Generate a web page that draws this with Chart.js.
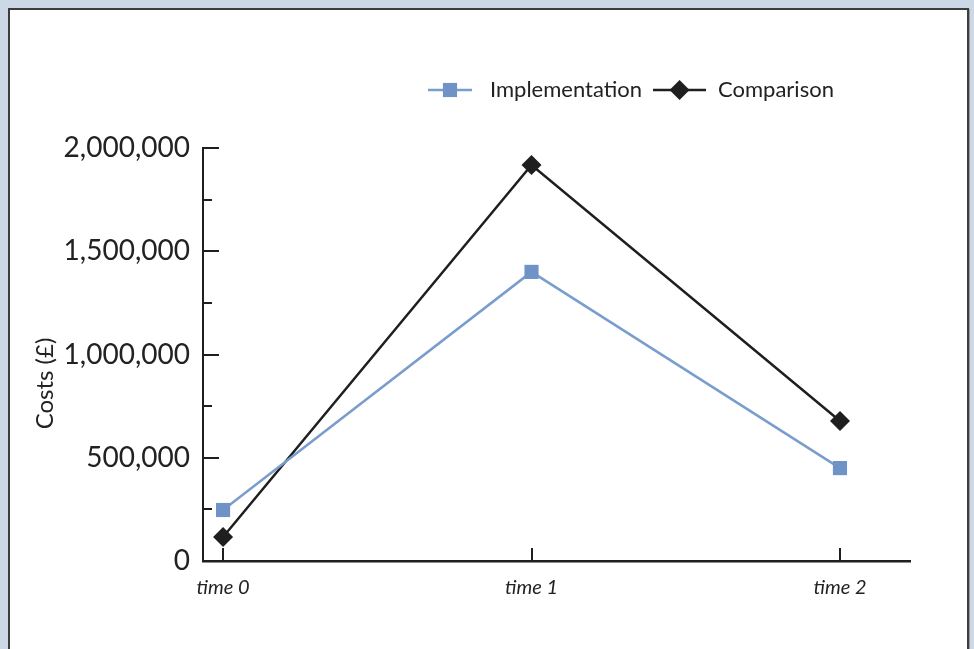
<!DOCTYPE html>
<html>
<head>
<meta charset="utf-8">
<script src="https://cdn.jsdelivr.net/npm/chart.js@4.4.1/dist/chart.umd.min.js"></script>
<style>
  html, body { margin: 0; padding: 0; }
  body { width: 974px; height: 649px; background: #cdd8e6; position: relative; overflow: hidden; }
  #panel {
    position: absolute; left: 8px; top: 8px; width: 957px; height: 700px;
    background: #ffffff; border: 2px solid #3d3d3d;
    box-shadow: 1px 1px 0 #9a9a9a;
  }
  #wrap { position: absolute; left: 0; top: 0; width: 974px; height: 649px; }
</style>
</head>
<body>
<div id="panel"></div>
<div id="wrap"><canvas id="grafico" width="974" height="649"></canvas></div>
<script>
const etiquetasTiempo = ["time 0", "time 1", "time 2"];
const posicionesTiempo = [0, 1, 2];

const nombresSeries = ["Implementation", "Comparison"];
const valoresImplementation = [247000, 1400000, 450000];
const valoresComparison = [116000, 1918000, 678000];

const ticksY = [0, 500000, 1000000, 1500000, 2000000];

const tituloY = "Costs (£)";

const colorAzul = "#6f93c6";
const colorNegro = "#1f1f1f";
const fuente = "Lato, 'Open Sans', sans-serif";

function puntos(valores) {
  return posicionesTiempo.map((x, i) => ({ x: x, y: valores[i] }));
}

// marcas de eje hacia adentro, como en el original
const pluginMarcas = {
  id: "pluginMarcas",
  beforeDatasetsDraw(chart) {
    const { ctx, scales } = chart;
    const ejeX = scales.x;
    const ejeY = scales.y;

    ctx.save();
    ctx.strokeStyle = colorNegro;
    ctx.lineWidth = 2;
    ctx.beginPath();

    ejeY.ticks.forEach((t) => {
      if (t.value === 0) return;
      const y = Math.round(ejeY.getPixelForValue(t.value));
      const largo = t.value % 500000 === 0 ? 16 : 9;
      ctx.moveTo(ejeX.left, y);
      ctx.lineTo(ejeX.left + largo, y);
    });

    ejeX.ticks.forEach((t) => {
      const x = Math.round(ejeX.getPixelForValue(t.value));
      ctx.moveTo(x, ejeY.bottom);
      ctx.lineTo(x, ejeY.bottom - 13);
    });

    ctx.stroke();
    ctx.restore();
  },
};

// leyenda y titulo del eje dibujados a mano para ubicarlos como en la imagen
const pluginLeyenda = {
  id: "pluginLeyenda",
  afterDraw(chart) {
    const { ctx, chartArea } = chart;
    const y = 90;
    const largos = [44, 53];
    const separaciones = [18, 12];
    let x = 428;

    ctx.save();
    ctx.font = "22px " + fuente;
    ctx.textBaseline = "middle";
    ctx.textAlign = "left";

    chart.data.datasets.forEach((ds, i) => {
      ctx.strokeStyle = ds.borderColor;
      ctx.lineWidth = ds.borderWidth;
      ctx.beginPath();
      ctx.moveTo(x, y);
      ctx.lineTo(x + largos[i], y);
      ctx.stroke();

      ctx.fillStyle = ds.pointBackgroundColor;
      ctx.strokeStyle = ds.pointBorderColor;
      Chart.helpers.drawPoint(ctx, {
        pointStyle: ds.pointStyle,
        radius: ds.pointRadius,
        borderWidth: 0,
        rotation: 0,
      }, x + largos[i] / 2, y);

      x += largos[i] + separaciones[i];
      ctx.fillStyle = "#222222";
      ctx.fillText(ds.label, x, y);
      x += ctx.measureText(ds.label).width + 11;
    });

    ctx.translate(45, (chartArea.top + chartArea.bottom) / 2 + 29);
    ctx.rotate(-Math.PI / 2);
    ctx.font = "24px " + fuente;
    ctx.textAlign = "center";
    ctx.fillStyle = "#222222";
    ctx.fillText(tituloY, 0, 0);
    ctx.restore();
  },
};

const canvas = document.getElementById("grafico");

new Chart(canvas.getContext("2d"), {
  type: "line",
  data: {
    datasets: [
      {
        label: nombresSeries[0],
        data: puntos(valoresImplementation),
        borderColor: "#7a9dcd",
        borderWidth: 2.5,
        pointStyle: "rect",
        pointRadius: 10,
        pointBackgroundColor: colorAzul,
        pointBorderColor: colorAzul,
        pointBorderWidth: 0,
        tension: 0,
      },
      {
        label: nombresSeries[1],
        data: puntos(valoresComparison),
        borderColor: colorNegro,
        borderWidth: 2.5,
        pointStyle: "rectRot",
        pointRadius: 10,
        pointBackgroundColor: colorNegro,
        pointBorderColor: colorNegro,
        pointBorderWidth: 0,
        tension: 0,
      },
    ],
  },
  options: {
    responsive: false,
    animation: false,
    layout: { padding: { left: 0, right: 64, top: 148, bottom: 0 } },
    plugins: {
      legend: { display: false },
      tooltip: { enabled: false },
    },
    scales: {
      x: {
        type: "linear",
        min: -0.065,
        max: 2.227,
        afterBuildTicks: (scale) => {
          scale.ticks = posicionesTiempo.map((v) => ({ value: v }));
        },
        afterFit: (scale) => {
          scale.height = 88;
        },
        grid: { drawOnChartArea: false, drawTicks: false },
        border: { display: true, color: colorNegro, width: 2.5 },
        ticks: {
          padding: 15,
          color: "#222222",
          font: { family: fuente, size: 20, style: "italic" },
          callback: (v) => etiquetasTiempo[posicionesTiempo.indexOf(v)] || "",
        },
      },
      y: {
        min: 0,
        max: 2000000,
        afterFit: (scale) => {
          scale.width = 203;
        },
        grid: { drawOnChartArea: false, drawTicks: false },
        border: { display: true, color: colorNegro, width: 2 },
        ticks: {
          stepSize: 250000,
          padding: 13,
          color: "#222222",
          font: { family: fuente, size: 28 },
          callback: (v) => (ticksY.includes(v) ? v.toLocaleString("en-US") : ""),
        },
      },
    },
  },
  plugins: [pluginMarcas, pluginLeyenda],
});
</script>
</body>
</html>
